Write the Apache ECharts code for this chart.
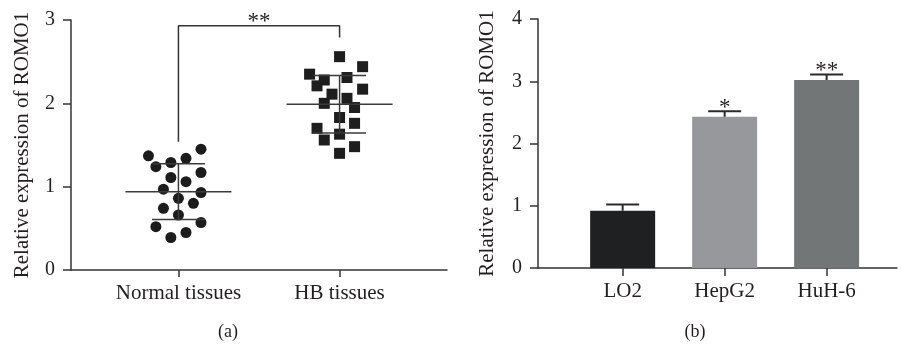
<!DOCTYPE html>
<html>
<head>
<meta charset="utf-8">
<title>ROMO1 expression</title>
<script src="https://cdn.jsdelivr.net/npm/echarts@6.0.0/dist/echarts.min.js"></script>
<style>
  html, body { margin: 0; padding: 0; background: #fff; }
  #chart { width: 901px; height: 345px; }
</style>
</head>
<body>
<div id="chart"></div>
<script>
// (a) samples: [x position (group + jitter), relative expression]
var normalPoints = [
    [0.814, 1.37], [0.860, 1.24], [0.953, 1.29], [1.047, 1.34], [1.140, 1.45],
    [1.140, 1.17], [0.953, 1.11], [1.047, 1.06], [0.907, 0.97], [1.140, 0.93],
    [1.000, 0.86], [1.093, 0.80], [0.907, 0.74], [1.000, 0.66], [1.140, 0.57],
    [0.860, 0.52], [1.047, 0.45], [0.953, 0.39]
];
var hbPoints = [
    [2.000, 2.56], [2.143, 2.44], [1.814, 2.35], [1.905, 2.28], [1.860, 2.21],
    [2.046, 2.31], [2.143, 2.17], [1.953, 2.11], [2.046, 2.06], [1.905, 2.00],
    [2.093, 1.95], [2.000, 1.83], [2.093, 1.76], [1.860, 1.70], [2.000, 1.63],
    [1.905, 1.56], [2.093, 1.48], [2.000, 1.40]
];
var groupNames = ['Normal tissues', 'HB tissues'];
var groupPos = [1, 2];
var groupMean = [0.94, 1.99];
var groupSd = [0.335, 0.345];
// significance bracket: left foot, top, right foot
var bracketY = [1.54, 2.93, 2.79];
var bracketMark = '**';
var yTicksA = [0, 1, 2, 3];

// (b) cell lines
var cellLines = ['LO2', 'HepG2', 'HuH-6'];
var cellPos = [1, 2, 3];
var cellMean = [0.92, 2.43, 3.02];
var cellErr = [0.10, 0.09, 0.09];
var cellMarks = ['', '*', '**'];
var yTicksB = [0, 1, 2, 3, 4];

var cellColors = ['#1f2022', '#97989c', '#727676'];
var inkColor = '#231f20';
var lineColor = '#333333';
var fontFamily = '"Liberation Serif", "DejaVu Serif", serif';

var myChart = echarts.init(document.getElementById('chart'));

function axisStyle() {
    return {
        axisLine: {show: true, lineStyle: {color: lineColor, width: 1.5}},
        axisTick: {show: true, length: 8, lineStyle: {color: lineColor, width: 1.5}},
        splitLine: {show: false}
    };
}

// mean line with SD whiskers
function meanSdItem(params, api) {
    var x = api.value(0), m = api.value(1), s = api.value(2);
    var c = api.coord([x, m]);
    var hi = api.coord([x, m + s]);
    var lo = api.coord([x, m - s]);
    var st = {stroke: '#3a3a3a', lineWidth: 1.5};
    return {
        type: 'group',
        children: [
            {type: 'line', shape: {x1: c[0] - 53, y1: c[1], x2: c[0] + 53, y2: c[1]}, style: st},
            {type: 'line', shape: {x1: hi[0] - 26.5, y1: hi[1], x2: hi[0] + 26.5, y2: hi[1]}, style: st},
            {type: 'line', shape: {x1: lo[0] - 26.5, y1: lo[1], x2: lo[0] + 26.5, y2: lo[1]}, style: st},
            {type: 'line', shape: {x1: hi[0], y1: hi[1], x2: lo[0], y2: lo[1]}, style: st}
        ]
    };
}

// upper error bar with cap
function errItem(params, api) {
    var x = api.value(0), m = api.value(1), e = api.value(2);
    var top = api.coord([x, m]);
    var hi = api.coord([x, m + e]);
    var st = {stroke: '#2a2a2a', lineWidth: 2};
    return {
        type: 'group',
        children: [
            {type: 'line', shape: {x1: top[0], y1: top[1], x2: hi[0], y2: hi[1]}, style: st},
            {type: 'line', shape: {x1: hi[0] - 16.5, y1: hi[1], x2: hi[0] + 16.5, y2: hi[1]}, style: st}
        ]
    };
}

// significance stars
function markItem(params, api) {
    var p = api.coord([api.value(0), api.value(1)]);
    var txt = params.seriesName === 'markA' ? bracketMark : cellMarks[params.dataIndex];
    return {
        type: 'text',
        x: p[0],
        y: p[1] + 8,
        style: {
            text: txt,
            align: 'center',
            verticalAlign: 'bottom',
            fontFamily: fontFamily,
            fontSize: 23,
            fill: inkColor
        }
    };
}

var option = {
    animation: false,
    backgroundColor: '#fff',
    textStyle: {fontFamily: fontFamily, color: inkColor},
    grid: [
        {left: 71, top: 20, width: 376, height: 250},
        {left: 538, top: 19, width: 359, height: 249}
    ],
    xAxis: [
        Object.assign(axisStyle(), {
            gridIndex: 0, type: 'value', min: 1 / 3, max: 8 / 3,
            axisTick: {show: true, length: 7, customValues: groupPos, lineStyle: {color: lineColor, width: 1.5}},
            axisLabel: {
                customValues: groupPos, margin: 13, fontSize: 21, color: inkColor, fontFamily: fontFamily,
                formatter: function (v) { return groupNames[Math.round(v) - 1]; }
            }
        }),
        Object.assign(axisStyle(), {
            gridIndex: 1, type: 'value', min: 0.17, max: 3.69,
            axisTick: {show: true, length: 8, customValues: cellPos, lineStyle: {color: lineColor, width: 1.5}},
            axisLabel: {
                customValues: cellPos, margin: 13, fontSize: 21, color: inkColor, fontFamily: fontFamily,
                formatter: function (v) { return cellLines[Math.round(v) - 1]; }
            }
        })
    ],
    yAxis: [
        Object.assign(axisStyle(), {
            gridIndex: 0, type: 'value', min: yTicksA[0], max: yTicksA[yTicksA.length - 1], interval: 1,
            name: 'Relative expression of ROMO1', nameLocation: 'middle', nameGap: 38,
            nameTextStyle: {fontSize: 21, color: inkColor, fontFamily: fontFamily},
            axisLabel: {margin: 16, fontSize: 20, color: inkColor, fontFamily: fontFamily}
        }),
        Object.assign(axisStyle(), {
            gridIndex: 1, type: 'value', min: yTicksB[0], max: yTicksB[yTicksB.length - 1], interval: 1,
            name: 'Relative expression of ROMO1', nameLocation: 'middle', nameGap: 40,
            nameTextStyle: {fontSize: 21, color: inkColor, fontFamily: fontFamily},
            axisLabel: {margin: 16, fontSize: 20, color: inkColor, fontFamily: fontFamily}
        })
    ],
    graphic: [
        {type: 'text', x: 228, y: 332, style: {text: '(a)', align: 'center', verticalAlign: 'middle', fontFamily: fontFamily, fontSize: 18, fill: inkColor}},
        {type: 'text', x: 695, y: 332, style: {text: '(b)', align: 'center', verticalAlign: 'middle', fontFamily: fontFamily, fontSize: 18, fill: inkColor}}
    ],
    series: [
        {
            name: 'Normal tissues', type: 'scatter', xAxisIndex: 0, yAxisIndex: 0,
            symbol: 'circle', symbolSize: 11, itemStyle: {color: '#1c1c1c', opacity: 1},
            data: normalPoints
        },
        {
            name: 'HB tissues', type: 'scatter', xAxisIndex: 0, yAxisIndex: 0,
            symbol: 'rect', symbolSize: 11, itemStyle: {color: '#1e1e1e', opacity: 1},
            data: hbPoints
        },
        {
            name: 'meanSd', type: 'custom', xAxisIndex: 0, yAxisIndex: 0, z: 5,
            renderItem: meanSdItem,
            data: groupPos.map(function (x, i) { return [x, groupMean[i], groupSd[i]]; })
        },
        {
            name: 'bracket', type: 'line', xAxisIndex: 0, yAxisIndex: 0, z: 5,
            symbol: 'none', lineStyle: {color: lineColor, width: 1.5},
            data: [[groupPos[0], bracketY[0]], [groupPos[0], bracketY[1]], [groupPos[1], bracketY[1]], [groupPos[1], bracketY[2]]]
        },
        {
            name: 'markA', type: 'custom', xAxisIndex: 0, yAxisIndex: 0, z: 6,
            renderItem: markItem,
            data: [[(groupPos[0] + groupPos[1]) / 2, bracketY[1]]]
        },
        {
            name: 'bars', type: 'bar', xAxisIndex: 1, yAxisIndex: 1, barWidth: 65,
            data: cellPos.map(function (x, i) {
                return {value: [x, cellMean[i]], itemStyle: {color: cellColors[i]}};
            })
        },
        {
            name: 'err', type: 'custom', xAxisIndex: 1, yAxisIndex: 1, z: 5,
            renderItem: errItem,
            data: cellPos.map(function (x, i) { return [x, cellMean[i], cellErr[i]]; })
        },
        {
            name: 'markB', type: 'custom', xAxisIndex: 1, yAxisIndex: 1, z: 6,
            renderItem: markItem,
            data: cellPos.map(function (x, i) { return [x, cellMean[i] + cellErr[i]]; })
        }
    ]
};
myChart.setOption(option);
</script>
</body>
</html>
